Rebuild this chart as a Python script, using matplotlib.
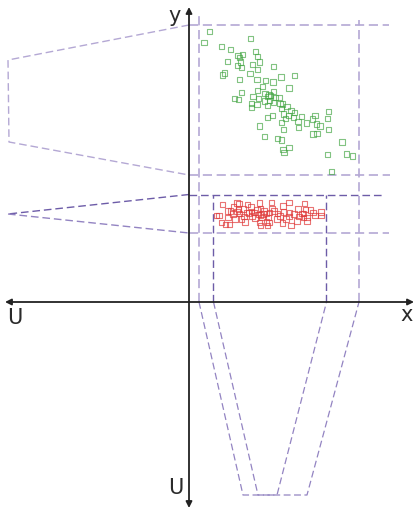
import matplotlib
matplotlib.use("Agg")
import matplotlib.pyplot as plt
import numpy as np

# ---- data (origin at the axes crossing) ----
green_x = [20.3, 15, 61.3, 32.7, 41.3, 66.7, 49, 53.7, 68.7, 50.3, 38.3, 51.3, 70.3, 63.7, 48.3,
           52.3, 84.3, 68.7, 35.3, 33.3, 61, 92, 105.3, 50.3, 68, 76.7, 84, 73.3, 100, 68.3,
           52.3, 84.3, 76, 80, 81.3, 79, 64, 45.3, 49.3, 69.7, 86.3, 90, 75.3, 80.3, 84.7,
           62.3, 68, 78.3, 91, 93.7, 62.3, 98, 92.7, 102, 105.3, 94.3, 99.3, 112.3, 126, 139.7,
           83.3, 78.7, 96.3, 104.7, 123.7, 138.7, 92.7, 109, 117.3, 127.3, 131, 109.3, 70.3, 94.3,
           139.3, 124, 128, 75.3, 88.7, 92.7, 153, 100, 94, 95, 138.3, 157.3, 163.7, 142.3]
green_y = [270.7, 259.7, 263.7, 255.3, 252.3, 250.3, 246.7, 247.3, 245.3, 244.7, 240.7, 240, 240, 237.7, 236.7,
           234.7, 235.7, 232.3, 229, 227, 228.7, 225, 226.3, 222.7, 222.3, 221.7, 220, 215.7, 214, 211.7,
           209.7, 210.3, 208.3, 207, 206.3, 205.7, 205.7, 203.3, 202.7, 203.3, 204.3, 204.3, 201, 201.3, 199.7,
           198.3, 197.3, 196.7, 198.3, 198, 194.7, 195.3, 193.3, 191.3, 189.3, 188, 186.7, 185.7, 186.3, 190.3,
           186.3, 184.7, 183.7, 184.7, 183, 183.3, 179.7, 180.7, 179, 178, 176, 174.3, 176, 172.3,
           172.7, 168, 168.7, 165.7, 163.7, 162, 160, 154.7, 152.3, 149.3, 147.3, 148, 146, 130.7]

red_x = [27.3, 30, 32.3, 33.7, 36.3, 38.7, 39, 40.7, 41.3, 44.3, 46, 48, 48, 49.7, 50, 50.7, 52.7,
         54.7, 57.3, 58.3, 62.7, 65, 68, 69.7, 70.7, 71.3, 71.7, 73, 74, 70.3, 71.3, 77.7, 80.7,
         83, 79.3, 77.3, 80, 78.7, 82.7, 88, 88.7, 93.3, 94.7, 100.7, 100, 100, 102, 108, 110,
         113, 114.3, 116.3, 115.3, 114.3, 118, 118, 121.3, 124, 126, 132, 132, 60, 63, 55, 66,
         75, 85, 91, 97, 105, 109, 56, 44, 94, 62]
red_y = [86.3, 86.7, 79.3, 97.7, 77.7, 91, 84.7, 77.7, 91, 95, 83, 90.7, 99, 92.3, 98.5, 88.7, 83,
         93, 89.7, 97.3, 90.3, 89.7, 92.7, 87.7, 99, 93.7, 87, 84.7, 88, 79.3, 76.7, 88.7, 89.7,
         93.3, 84.7, 80, 79.3, 76.3, 99.7, 83, 88.7, 79, 90, 89.7, 99.7, 85.7, 76.3, 81, 85.3,
         88.7, 88.7, 92.7, 98.3, 84.7, 84.7, 81, 92, 89.7, 86.3, 90, 86.3, 89, 86, 85.5, 84,
         91, 91, 86, 83, 88, 93, 80, 88, 96, 95]

# supports and cores of the projected membership functions
green_support_x = [10, 170]
green_support_y = [127, 277]
green_core_x = [54, 118]
green_core_y = [160, 242]
red_support_x = [24.5, 137.5]
red_support_y = [69, 107.5]
red_core_x = [69, 88]
red_core_y = [88, 88]
mu_len_x = 193   # membership height drawn downward
mu_len_y = 181   # membership height drawn leftward

LIGHT = "#b4a8d4"
DARK = "#6d5ca8"
MED = "#9384c2"
DASH = (0, (5.5, 2.8))

fig = plt.figure(figsize=(4.14, 5.08), dpi=100)
ax = fig.add_axes([0, 0, 1, 1])
ax.set_xlim(-189, 225)
ax.set_ylim(-206, 302)
ax.axis("off")

def dline(xs, ys, c, lw=1.0):
    ax.plot(xs, ys, color=c, lw=lw, linestyle=DASH, zorder=2)

# green bounding box
dline([0, 200], [green_support_y[1]] * 2, LIGHT, 1.2)
dline([0, 201], [green_support_y[0]] * 2, LIGHT, 1.2)
dline([green_support_x[0]] * 2, [0, 287], LIGHT, 1.2)
dline([green_support_x[1]] * 2, [0, 282], LIGHT, 1.2)

# red bounding box
dline([0, 194], [red_support_y[1]] * 2, DARK)
dline([0, 200], [red_support_y[0]] * 2, LIGHT, 1.2)
dline([red_support_x[0]] * 2, [0, red_support_y[1]], DARK)
dline([red_support_x[1]] * 2, [0, red_support_y[1]], DARK)

# left projections (membership on y)
dline([0, -mu_len_y, -mu_len_y + 1, 0],
      [green_support_y[1], green_core_y[1], green_core_y[0], green_support_y[0]], LIGHT)
dline([0, -mu_len_y], [red_support_y[1], red_core_y[1]], DARK)
dline([-mu_len_y, 0], [red_core_y[0], red_support_y[0]], MED)

# bottom projections (membership on x)
dline([green_support_x[0], green_core_x[0], green_core_x[1], green_support_x[1]],
      [0, -mu_len_x, -mu_len_x, 0], MED, 0.9)
dline([red_support_x[0], red_core_x[0], red_core_x[1], red_support_x[1]],
      [0, -mu_len_x, -mu_len_x, 0], MED, 0.9)

# scatter clusters
ax.scatter(green_x, green_y, s=14, marker="s", facecolors="none",
           edgecolors="#3fa43f", linewidths=0.8, alpha=0.65, zorder=3)
ax.scatter(red_x, red_y, s=14, marker="s", facecolors="none",
           edgecolors="#e03a3a", linewidths=0.8, alpha=0.7, zorder=3)

# axes with arrows
arrow_kw = dict(arrowstyle="-|>", color="#222222", lw=1.3, mutation_scale=9,
                shrinkA=0, shrinkB=0)
ax.annotate("", xy=(225, 0), xytext=(0, 0), arrowprops=arrow_kw, zorder=4)
ax.annotate("", xy=(-184, 0), xytext=(0, 0), arrowprops=arrow_kw, zorder=4)
ax.annotate("", xy=(0, 295), xytext=(0, 0), arrowprops=arrow_kw, zorder=4)
ax.annotate("", xy=(0, -206), xytext=(0, 0), arrowprops=arrow_kw, zorder=4)

tkw = dict(fontsize=15, color="#2a2a2a", ha="center", va="center")
ax.text(-14, 286, "y", **tkw)
ax.text(218, -13, "x", **tkw)
ax.text(-174, -16, "U", **tkw)
ax.text(-13, -186, "U", **tkw)

fig.savefig("out.png", dpi=100)
